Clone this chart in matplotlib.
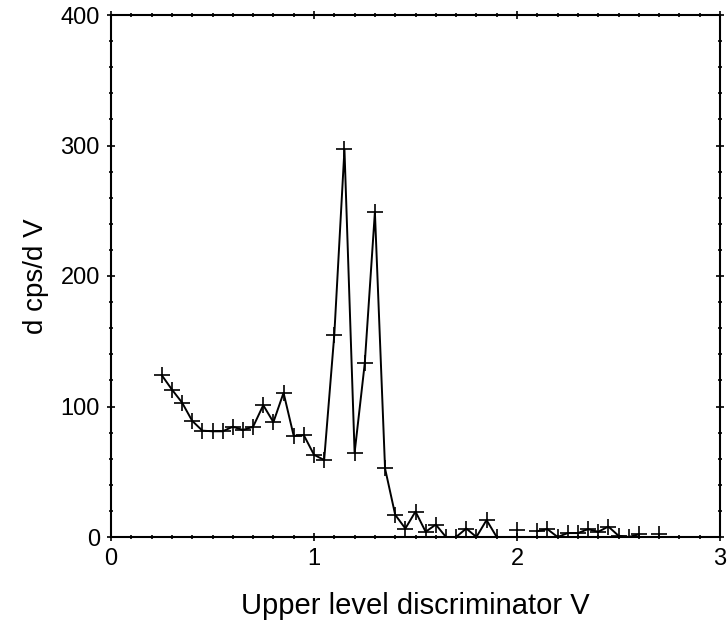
import matplotlib.pyplot as plt
import numpy as np
from matplotlib.ticker import MultipleLocator

plt.rcParams['font.family'] = ['Liberation Sans', 'DejaVu Sans']

# discriminator voltage (V), step 0.05
volts = np.round(np.arange(0.25, 2.701, 0.05), 2)

# d cps / d V, nan = no point drawn
dcps = [124, 113, 103, 89, 81.5, 81, 81, 84.5, 82, 84.5,    # 0.25 - 0.70
        101, 88, 110.5, 77.5, 78, 63, 59, 155, 297, 64.5,    # 0.75 - 1.20
        133, 249, 52.5, 17, 6.5, 19.5, 4, 9.5, 0, 0,          # 1.25 - 1.70
        6.5, 0, 13, 0, np.nan, 5, np.nan, 4.5, 6, 0,         # 1.75 - 2.20
        3, 3, 6, 4, 8, 1, 0, 2, np.nan, 2]                   # 2.25 - 2.70
dcps = np.array(dcps, dtype=float)

fig = plt.figure(figsize=(7.27, 6.39), dpi=100)
ax = fig.add_axes([111 / 727, 1 - 537 / 639, 609 / 727, 522 / 639])

ax.plot(volts, dcps, color='black', lw=1.4, marker='+', ms=11, mew=1.2)

ax.set_xlim(0, 3)
ax.set_ylim(0, 400)
ax.xaxis.set_major_locator(MultipleLocator(1))
ax.xaxis.set_minor_locator(MultipleLocator(0.1))
ax.yaxis.set_major_locator(MultipleLocator(100))
ax.yaxis.set_minor_locator(MultipleLocator(20))
ax.tick_params(which='both', direction='inout', top=True, right=True,
               labelsize=17, width=1.2)
ax.tick_params(which='major', length=6, pad=5)
ax.tick_params(which='minor', length=3)
for s in ax.spines.values():
    s.set_linewidth(1.5)

ax.set_xlabel('Upper level discriminator V', fontsize=21, labelpad=16)
ax.set_ylabel('d cps/d V', fontsize=20, labelpad=8)

fig.savefig('out.png', dpi=100)
